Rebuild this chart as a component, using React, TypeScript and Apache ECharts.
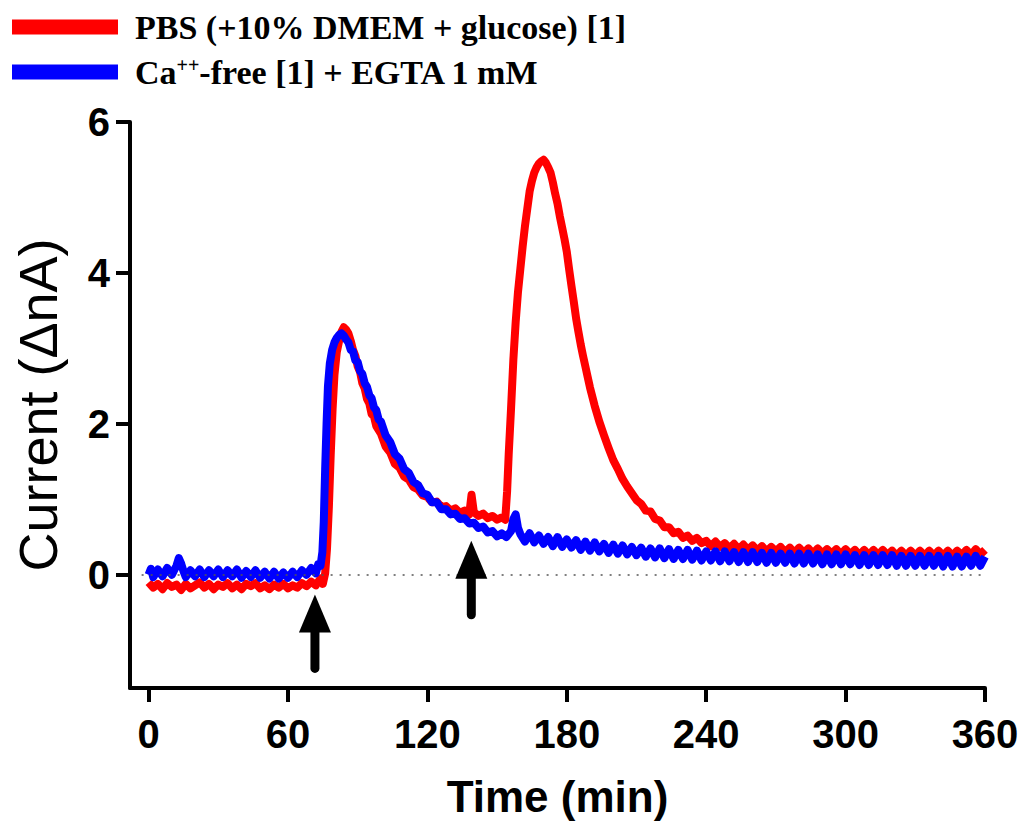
import React, { useEffect, useRef } from "react";
import * as echarts from "echarts";

const seriesNames = ["PBS (+10% DMEM + glucose) [1]", "Ca++-free [1] + EGTA 1 mM"];
const xTicks = [0, 60, 120, 180, 240, 300, 360];
const yTicks = [0, 2, 4, 6];

// [time (min), current (ΔnA)]
const redTrace = [
  [0,-0.10],[2,-0.17],[4,-0.12],[6,-0.19],[8,-0.11],[10,-0.16],[12,-0.13],[14,-0.20],[16,-0.12],[18,-0.18],
  [20,-0.14],[22,-0.10],[24,-0.17],[26,-0.12],[28,-0.19],[30,-0.13],[32,-0.16],[34,-0.11],[36,-0.18],[38,-0.13],
  [40,-0.19],[42,-0.12],[44,-0.15],[46,-0.11],[48,-0.18],[50,-0.14],[52,-0.19],[54,-0.13],[56,-0.17],[58,-0.12],
  [60,-0.18],[62,-0.14],[64,-0.17],[66,-0.11],[68,-0.15],[70,-0.09],[72,-0.14],[74,-0.05],[75,-0.12],[76,0.02],
  [76.8,0.35],[77.6,0.9],[78.4,1.6],[79.2,2.2],[80,2.65],[81,2.95],[82,3.1],[83,3.22],[84,3.28],[85,3.25],
  [86,3.2],[87,3.1],[88,2.98],[89,2.9],[90,2.76],[91,2.69],[92,2.54],[93,2.47],[94,2.33],[95,2.27],
  [96,2.13],[97,2.1],[98,1.97],[100,1.87],[102,1.70],[104,1.62],[106,1.47],[108,1.42],[110,1.30],[112,1.26],
  [114,1.16],[116,1.13],[118,1.05],[120,1.03],[122,0.96],[124,0.97],[126,0.90],[128,0.91],[130,0.85],[132,0.88],
  [134,0.82],[136,0.85],[138,0.80],[139,1.06],[140,0.83],[142,0.78],[144,0.81],[146,0.75],[148,0.78],[150,0.73],
  [152,0.76],[153.5,0.73],[154.3,1.1],[155,1.6],[156,2.2],[157,2.85],[158,3.35],[159,3.75],[160,4.05],[161,4.35],
  [162,4.62],[163,4.85],[164,5.08],[165,5.22],[166,5.33],[167,5.4],[168,5.45],[169,5.48],[170,5.5],[171,5.46],
  [172,5.4],[173,5.33],[174,5.2],[175,5.05],[176,4.92],[177,4.75],[178,4.6],[179,4.45],[180,4.28],[181,4.05],
  [182,3.83],[183,3.62],[184,3.4],[185,3.22],[186,3.05],[187,2.9],[188,2.76],[189,2.62],[190,2.48],[192,2.24],
  [194,2.03],[196,1.85],[198,1.68],[200,1.52],[202,1.4],[204,1.27],[206,1.17],[208,1.08],[210,0.99],[212,0.94],
  [214,0.85],[216,0.84],[218,0.74],[220,0.72],[222,0.63],[224,0.63],[226,0.55],[228,0.57],[230,0.49],[232,0.52],
  [234,0.45],[236,0.49],[238,0.42],[240,0.45],[242,0.38],[244,0.44],[246,0.37],[248,0.42],[250,0.35],[252,0.41],
  [254,0.34],[256,0.40],[258,0.33],[260,0.39],[262,0.32],[264,0.38],[266,0.31],[268,0.37],[270,0.31],[272,0.37],
  [274,0.30],[276,0.36],[278,0.29],[280,0.36],[282,0.29],[284,0.35],[286,0.28],[288,0.35],[290,0.28],[292,0.34],
  [294,0.28],[296,0.34],[298,0.27],[300,0.34],[302,0.27],[304,0.33],[306,0.26],[308,0.33],[310,0.26],[312,0.33],
  [314,0.26],[316,0.33],[318,0.26],[320,0.32],[322,0.25],[324,0.32],[326,0.25],[328,0.32],[330,0.25],[332,0.32],
  [334,0.25],[336,0.32],[338,0.25],[340,0.32],[342,0.25],[344,0.32],[346,0.25],[348,0.32],[350,0.26],[352,0.33],
  [354,0.26],[356,0.34],[358,0.27],[360,0.33]
];

const blueTrace = [
  [0,0.0],[1,0.08],[2,-0.03],[4,0.07],[6,-0.02],[8,0.09],[10,0.0],[12,0.12],[13,0.22],[14,0.15],
  [15,0.05],[16,-0.03],[18,0.06],[20,-0.02],[22,0.07],[24,-0.03],[26,0.06],[28,-0.02],[30,0.07],[32,-0.03],
  [34,0.06],[36,-0.02],[38,0.07],[40,-0.04],[42,0.05],[44,-0.03],[46,0.06],[48,-0.04],[50,0.04],[52,-0.05],
  [54,0.04],[56,-0.05],[58,0.03],[60,-0.04],[62,0.04],[64,-0.03],[66,0.06],[68,0.0],[70,0.09],[72,0.02],
  [73,0.14],[74,0.12],[74.8,0.3],[75.4,0.7],[76,1.4],[76.6,2.0],[77.2,2.5],[78,2.8],[79,2.98],[80,3.08],
  [81,3.14],[82,3.18],[83,3.2],[84,3.17],[85,3.12],[86,3.08],[87,2.98],[88,2.96],[89,2.84],[90,2.82],
  [91,2.70],[92,2.66],[93,2.54],[94,2.49],[95,2.38],[96,2.34],[97,2.22],[98,2.18],[99,2.06],[100,2.03],
  [102,1.85],[104,1.76],[106,1.60],[108,1.54],[110,1.40],[112,1.35],[114,1.23],[116,1.19],[118,1.08],[120,1.06],
  [122,0.96],[124,0.96],[126,0.87],[128,0.87],[130,0.80],[132,0.81],[134,0.74],[136,0.75],[138,0.68],[140,0.69],
  [142,0.62],[144,0.64],[146,0.56],[148,0.58],[150,0.51],[152,0.55],[154,0.50],[156,0.58],[157,0.74],[158,0.8],
  [159,0.62],[160,0.54],[162,0.44],[164,0.55],[166,0.43],[168,0.52],[170,0.41],[172,0.50],[174,0.38],[176,0.50],
  [178,0.37],[180,0.47],[182,0.36],[184,0.46],[186,0.33],[188,0.44],[190,0.32],[192,0.43],[194,0.31],[196,0.41],
  [198,0.29],[200,0.40],[202,0.28],[204,0.39],[206,0.27],[208,0.37],[210,0.26],[212,0.36],[214,0.24],[216,0.35],
  [218,0.23],[220,0.35],[222,0.22],[224,0.34],[226,0.21],[228,0.33],[230,0.21],[232,0.33],[234,0.20],[236,0.32],
  [238,0.19],[240,0.31],[242,0.19],[244,0.31],[246,0.18],[248,0.31],[250,0.18],[252,0.30],[254,0.17],[256,0.30],
  [258,0.17],[260,0.30],[262,0.17],[264,0.29],[266,0.16],[268,0.29],[270,0.16],[272,0.28],[274,0.16],[276,0.28],
  [278,0.15],[280,0.28],[282,0.15],[284,0.28],[286,0.15],[288,0.27],[290,0.14],[292,0.27],[294,0.14],[296,0.27],
  [298,0.14],[300,0.27],[302,0.14],[304,0.26],[306,0.13],[308,0.26],[310,0.13],[312,0.26],[314,0.13],[316,0.26],
  [318,0.13],[320,0.26],[322,0.12],[324,0.25],[326,0.12],[328,0.25],[330,0.12],[332,0.25],[334,0.12],[336,0.25],
  [338,0.12],[340,0.25],[342,0.11],[344,0.25],[346,0.11],[348,0.24],[350,0.11],[352,0.24],[354,0.12],[356,0.25],
  [358,0.12],[360,0.24]
];

// [time, tip value, tail value]
const arrows = [
  [71.6, -0.26, -1.3],
  [138.9, 0.45, -0.59]
];

const AX = "Liberation Sans, Arial, sans-serif";
const SERIF = "Liberation Serif, Times New Roman, serif";

export default function App() {
  const ref = useRef<HTMLDivElement>(null);
  useEffect(() => {
    document.body.style.margin = "0";
    const chart = echarts.init(ref.current!, null, { renderer: "svg" });
    const axisLineStyle = { color: "#000", width: 4 };
    chart.setOption({
      animation: false,
      backgroundColor: "#fff",
      grid: { left: 130, right: 37, top: 122, bottom: 133, containLabel: false },
      legend: {
        orient: "vertical",
        left: 12,
        top: 10,
        padding: 0,
        itemWidth: 106,
        itemHeight: 15,
        itemGap: 11,
        icon: "rect",
        selectedMode: false,
        data: seriesNames,
        formatter: (n: string) =>
          n === seriesNames[1]
            ? "{a|Ca}{s|++}{b|-free [1] + EGTA 1 mM}"
            : "{a|" + n + "}",
        textStyle: {
          rich: {
            a: { fontSize: 34, fontWeight: "bold", fontFamily: SERIF, color: "#000", padding: [0, 0, 0, 12] },
            b: { fontSize: 34, fontWeight: "bold", fontFamily: SERIF, color: "#000" },
            s: { fontSize: 20, fontWeight: "bold", fontFamily: SERIF, color: "#000", verticalAlign: "top" }
          }
        }
      },
      xAxis: {
        type: "value",
        min: -8,
        max: 360,
        axisLine: { show: true, onZero: false, lineStyle: axisLineStyle },
        axisTick: { show: true, customValues: xTicks, length: 14, lineStyle: axisLineStyle },
        axisLabel: { customValues: xTicks, margin: 26, fontSize: 40, fontWeight: "bold", color: "#000", fontFamily: AX },
        splitLine: { show: false },
        name: "Time (min)",
        nameLocation: "middle",
        nameGap: 86,
        nameTextStyle: { fontSize: 44, fontWeight: "bold", color: "#000", fontFamily: AX }
      },
      yAxis: {
        type: "value",
        min: -1.5,
        max: 6,
        axisLine: { show: true, onZero: false, lineStyle: axisLineStyle },
        axisTick: { show: true, customValues: yTicks, length: 14, lineStyle: axisLineStyle },
        axisLabel: { customValues: yTicks, margin: 20, fontSize: 40, fontWeight: "bold", color: "#000", fontFamily: AX },
        splitLine: { show: false },
        name: "Current (ΔnA)",
        nameLocation: "middle",
        nameGap: 65,
        nameRotate: 90,
        nameTextStyle: { fontSize: 54, color: "#000", fontFamily: AX }
      },
      series: [
        {
          type: "line",
          name: "zero",
          data: [],
          z: 1,
          markLine: {
            silent: true,
            symbol: "none",
            label: { show: false },
            lineStyle: { color: "#555", type: [2, 7], width: 1.5 },
            data: [[{ coord: [-3, 0] }, { coord: [360, 0] }]]
          }
        },
        {
          type: "line",
          name: seriesNames[0],
          data: redTrace,
          showSymbol: false,
          symbol: "none",
          z: 2,
          itemStyle: { color: "#ff0000" },
          lineStyle: { color: "#ff0000", width: 8, join: "round" }
        },
        {
          type: "line",
          name: seriesNames[1],
          data: blueTrace,
          showSymbol: false,
          symbol: "none",
          z: 3,
          itemStyle: { color: "#0000ff" },
          lineStyle: { color: "#0000ff", width: 8, join: "round" }
        },
        {
          type: "custom",
          name: "arrows",
          coordinateSystem: "cartesian2d",
          silent: true,
          z: 5,
          data: arrows,
          renderItem: (params: any, api: any) => {
            const tip = api.coord([api.value(0), api.value(1)]);
            const bot = api.coord([api.value(0), api.value(2)]);
            const headH = 38;
            const halfW = 16;
            return {
              type: "group",
              children: [
                {
                  type: "line",
                  shape: { x1: tip[0], y1: tip[1] + headH - 2, x2: bot[0], y2: bot[1] - 4.5 },
                  style: { stroke: "#000", lineWidth: 9, lineCap: "round" }
                },
                {
                  type: "polygon",
                  shape: { points: [[tip[0], tip[1]], [tip[0] - halfW, tip[1] + headH], [tip[0] + halfW, tip[1] + headH]] },
                  style: { fill: "#000" }
                }
              ]
            };
          }
        }
      ]
    });
    return () => chart.dispose();
  }, []);
  return <div ref={ref} style={{ width: 1022, height: 823 }} />;
}
